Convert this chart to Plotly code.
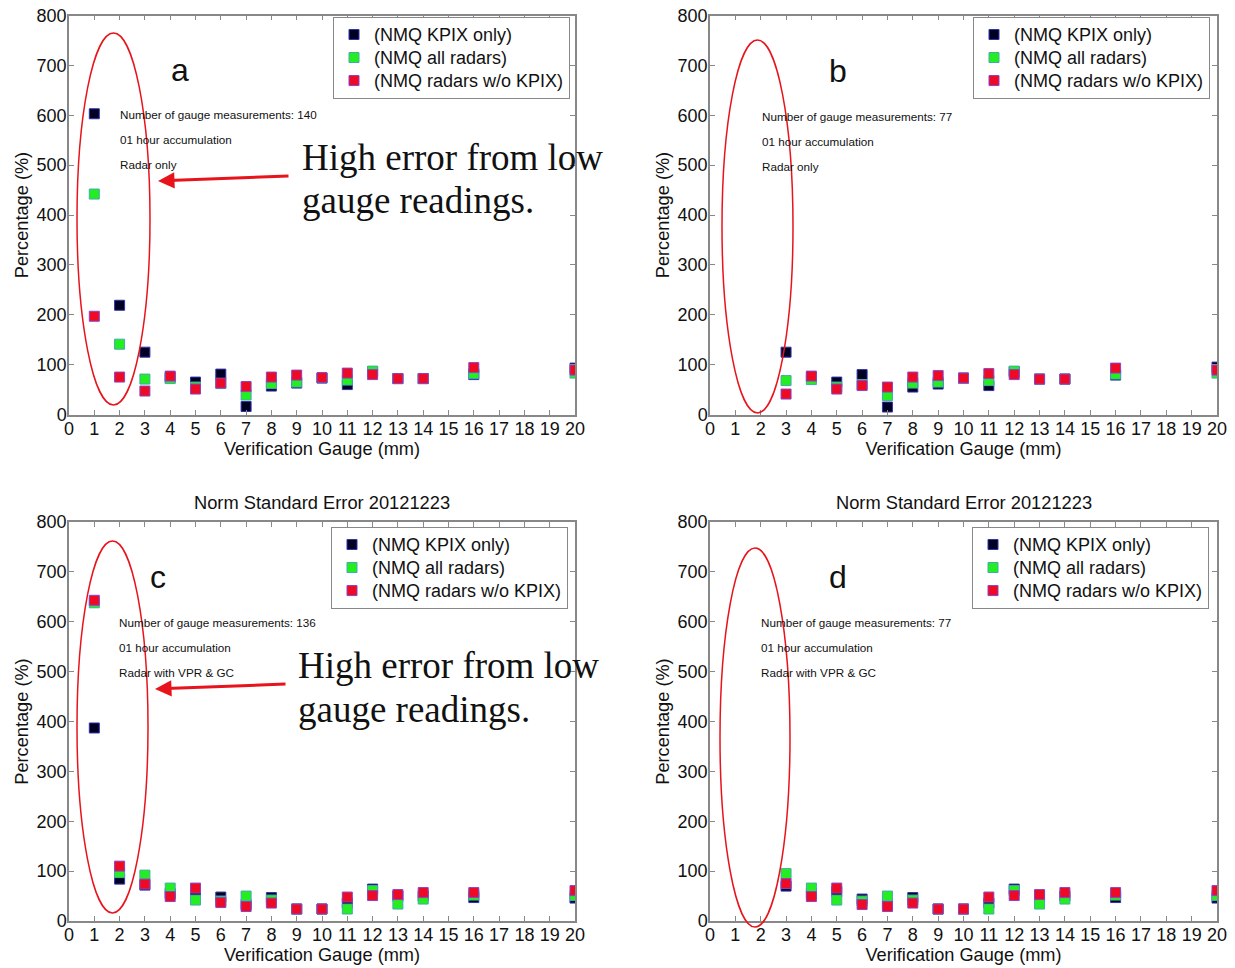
import plotly.graph_objects as go

# ---------------- data ----------------
gauge_full = [1, 2, 3, 4, 5, 6, 7, 8, 9, 10, 11, 12, 13, 14, 16, 20]
gauge_part = [3, 4, 5, 6, 7, 8, 9, 10, 11, 12, 13, 14, 16, 20]

kpix_a = [603, 219, 125, 74, 65, 81, 16, 57, 63, 73, 60, 86, 72, 72, 80, 93]
all_a = [442, 141, 71, 72, 55, 62, 39, 62, 65, 73, 69, 87, 72, 72, 82, 83]
wo_a = [197, 75, 47, 77, 51, 63, 56, 75, 79, 74, 83, 80, 72, 72, 94, 89]

kpix_b = [125, 75, 65, 80, 15, 55, 61, 73, 58, 86, 71, 71, 79, 95]
all_b = [68, 70, 55, 60, 38, 63, 65, 73, 68, 87, 71, 71, 81, 83]
wo_b = [41, 77, 51, 58, 55, 75, 78, 73, 82, 80, 71, 71, 93, 89]

kpix_c = [387, 84, 72, 55, 59, 48, 33, 47, 24, 24, 36, 64, 50, 50, 47, 46]
all_c = [638, 97, 92, 66, 42, 40, 50, 42, 24, 24, 24, 61, 34, 44, 52, 51]
wo_c = [643, 110, 74, 49, 66, 37, 29, 36, 24, 24, 48, 51, 53, 57, 57, 61]

kpix_d = [70, 55, 59, 44, 33, 47, 24, 24, 36, 64, 50, 50, 47, 46]
all_d = [95, 66, 42, 40, 50, 42, 24, 24, 24, 61, 34, 44, 52, 51]
wo_d = [75, 49, 66, 33, 29, 36, 24, 24, 48, 51, 53, 57, 57, 61]

series_names = ["(NMQ KPIX only)", "(NMQ all radars)", "(NMQ radars w/o KPIX)"]
x_ticks = list(range(0, 21))
y_ticks = list(range(0, 801, 100))

panel_letters = ["a", "b", "c", "d"]
gauge_counts = [140, 77, 136, 77]
product_text = ["Radar only", "Radar only", "Radar with VPR & GC", "Radar with VPR & GC"]

# ---------------- styles ----------------
W, H = 1235, 968
FONT = "Liberation Sans, Arial, sans-serif"
SERIF = "Liberation Serif, Times New Roman, serif"
fills = ["#000022", "#22ee22", "#ee0a24"]
edges = ["#3333aa", "#44aaaa", "#8844cc"]

# pixel boxes of the four plot areas: (left, right, top, bottom)
boxes = [(69, 575, 15.5, 414.5), (710, 1217, 15.5, 414.5),
         (69, 575, 522, 921), (710, 1217, 522, 921)]

def px(x):
    return x / W

def py(y):
    return 1 - y / H

fig = go.Figure()

panels = [
    (gauge_full, [kpix_a, all_a, wo_a]),
    (gauge_part, [kpix_b, all_b, wo_b]),
    (gauge_full, [kpix_c, all_c, wo_c]),
    (gauge_part, [kpix_d, all_d, wo_d]),
]

legend_pos = [(333, 17), (973, 17), (331, 527), (972, 527)]

for i, (gx, vals) in enumerate(panels):
    sfx = "" if i == 0 else str(i + 1)
    leg = "legend" if i == 0 else f"legend{i + 1}"
    for k in range(3):
        fig.add_trace(go.Scatter(
            x=gx, y=vals[k], mode="markers",
            name=f'<span style="font-size:18px">{series_names[k]}</span>',
            xaxis="x" + sfx, yaxis="y" + sfx, legend=leg,
            marker=dict(symbol="square", size=10, color=fills[k],
                        line=dict(color=edges[k], width=1)),
        ))

layout = dict(
    width=W, height=H, margin=dict(l=0, r=0, t=0, b=0, autoexpand=False),
    paper_bgcolor="white", plot_bgcolor="white",
    font=dict(family=FONT, color="#111111"),
)

for i, (l, r, t, b) in enumerate(boxes):
    sfx = "" if i == 0 else str(i + 1)
    layout["xaxis" + sfx] = dict(
        domain=[px(l), px(r)], anchor="y" + sfx, range=[0, 20], automargin=False,
        tickmode="array", tickvals=x_ticks, ticktext=[str(v) for v in x_ticks],
        ticks="inside", ticklen=5, tickcolor="#888888", mirror="ticks",
        showline=True, linecolor="#888888", linewidth=1.5, showgrid=False,
        zeroline=False, tickfont=dict(size=18, family=FONT, color="#111111"),
        ticklabelstandoff=-3,
        title=dict(text="Verification Gauge (mm)", font=dict(size=18.2, family=FONT), standoff=2),
    )
    layout["yaxis" + sfx] = dict(
        domain=[py(b), py(t)], anchor="x" + sfx, range=[0, 800], automargin=False,
        tickmode="array", tickvals=y_ticks, ticktext=[str(v) for v in y_ticks],
        ticks="inside", ticklen=5, tickcolor="#888888", mirror="ticks",
        showline=True, linecolor="#888888", linewidth=1.5, showgrid=False,
        zeroline=False, tickfont=dict(size=18, family=FONT, color="#111111"),
        ticklabelstandoff=-3,
        title=dict(text="Percentage (%)", font=dict(size=18.2, family=FONT), standoff=3),
    )
    lx, ly = legend_pos[i]
    leg = "legend" if i == 0 else f"legend{i + 1}"
    layout[leg] = dict(
        x=px(lx), y=py(ly), xanchor="left", yanchor="top",
        bgcolor="white", bordercolor="#888888", borderwidth=1,
        font=dict(size=15.4, family=FONT, color="#111111"),
        tracegroupgap=0,
    )

fig.update_layout(**layout)

annotations = []
shapes = []

# titles for lower panels
for (l, r, t, b) in boxes[2:]:
    annotations.append(dict(
        text="Norm Standard Error 20121223", xref="paper", yref="paper",
        x=px((l + r) / 2), y=py(502), xanchor="center", yanchor="middle",
        showarrow=False, font=dict(size=18.3, family=FONT, color="#111111")))

# panel letters
letter_pos = [(180, 70), (838, 71), (158, 577), (838, 577)]
for lt, (x, y) in zip(panel_letters, letter_pos):
    annotations.append(dict(text=lt, xref="paper", yref="paper", x=px(x), y=py(y),
                            xanchor="center", yanchor="middle", showarrow=False,
                            font=dict(size=32, family=FONT, color="#111111")))

# info text
info_pos = [(118, 115), (760, 116), (117, 622), (759, 622)]
for i, (x, y) in enumerate(info_pos):
    lines = [f"Number of gauge measurements: {gauge_counts[i]}",
             "01 hour accumulation", product_text[i]]
    for j, s in enumerate(lines):
        annotations.append(dict(text=s, xref="paper", yref="paper", x=px(x), y=py(y + 25 * j),
                                xanchor="left", yanchor="middle", showarrow=False,
                                font=dict(size=11.7, family=FONT, color="#111111")))

# ellipses (pixel boxes)
ellipses = [(77, 150, 33, 405), (722, 793, 40, 413), (77, 148, 541, 913), (720, 790, 548, 927)]
for (l, r, t, b) in ellipses:
    shapes.append(dict(type="circle", xref="paper", yref="paper",
                       x0=px(l), x1=px(r), y0=py(b), y1=py(t),
                       line=dict(color="#e8141c", width=1.5)))

# arrows and callout text for a and c
arrows = [((158, 181), (290, 176)), ((155, 689), (287, 684))]
callouts = [(300, 157), (296, 665)]
for (head, tail), (cx, cy) in zip(arrows, callouts):
    annotations.append(dict(text="", xref="paper", yref="paper", x=px(head[0]), y=py(head[1]),
                            ax=tail[0] - head[0], ay=tail[1] - head[1], showarrow=True,
                            arrowhead=2, arrowsize=1.1, arrowwidth=3, arrowcolor="#e8141c"))
    for j, s in enumerate(["High error from low", "gauge readings."]):
        annotations.append(dict(text=s, xref="paper", yref="paper", x=px(cx), y=py(cy + 44 * j),
                                xanchor="left", yanchor="middle", showarrow=False,
                                font=dict(size=37, family=SERIF, color="#111111")))

fig.update_layout(annotations=annotations, shapes=shapes)
fig.write_html("out.html")
